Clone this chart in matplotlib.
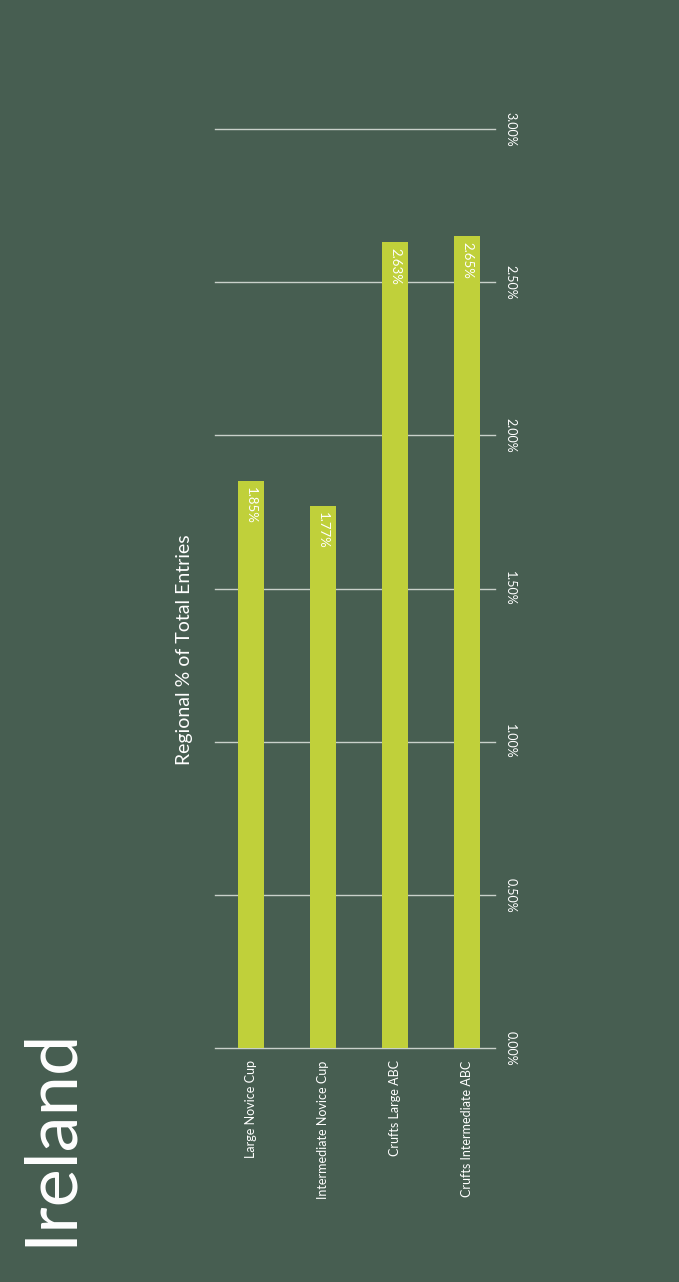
import matplotlib.pyplot as plt

# === Data ===
categories = ["Large Novice Cup", "Intermediate Novice Cup", "Crufts Large ABC", "Crufts Intermediate ABC"]
values = [1.85, 1.77, 2.63, 2.65]
value_labels = ["1.85%", "1.77%", "2.63%", "2.65%"]
ticks = [0.0, 0.5, 1.0, 1.5, 2.0, 2.5, 3.0]
tick_labels = ["0.00%", "0.50%", "1.00%", "1.50%", "2.00%", "2.50%", "3.00%"]

bg = "#475e51"
bar_color = "#c0d03a"
grid_color = "#c9d0ca"
font = "Lato"

fig = plt.figure(figsize=(6.79, 12.82), dpi=100)
fig.patch.set_facecolor(bg)

# chart is drawn rotated: bars go up, text turned sideways
ax = fig.add_axes([215 / 679, 1 - 1048 / 1282, 288 / 679, (1048 - 129) / 1282])
ax.set_facecolor(bg)
x = range(len(categories))
ax.bar(x, values, width=0.37, color=bar_color, zorder=3)
ax.set_xlim(-0.5, len(categories) - 0.5)
ax.set_ylim(0, 3.0)
for t in ticks:
    ax.axhline(t, xmax=280 / 288, color=grid_color, lw=1, zorder=1, clip_on=False)
for s in ax.spines.values():
    s.set_visible(False)
ax.set_xticks([])
ax.set_yticks([])

# value axis labels on the right
for t, lab in zip(ticks, tick_labels):
    ax.text(1.025, t, lab, transform=ax.get_yaxis_transform(), rotation=-90,
            ha="center", va="center", color="white", fontsize=9, family=font)

# category labels below the baseline
for i, c in enumerate(categories):
    ax.text(i, -0.04, c, rotation=90, ha="center", va="top", color="white",
            fontsize=9, family=font)

# value labels inside bar tops
for i, (v, lab) in enumerate(zip(values, value_labels)):
    ax.text(i, v - 0.02, lab, rotation=-90, ha="center", va="top", color="white",
            fontsize=9.5, family=font, zorder=4)

fig.text(185 / 679, 1 - 650 / 1282, "Regional % of Total Entries", rotation=90,
         ha="center", va="center", color="white", fontsize=14, family=font)
fig.text(50 / 679, 1 - 1137 / 1282, "Ireland", rotation=90, ha="center", va="center",
         color="white", fontsize=52, family=font)

fig.savefig("out.png", dpi=100, facecolor=bg)
